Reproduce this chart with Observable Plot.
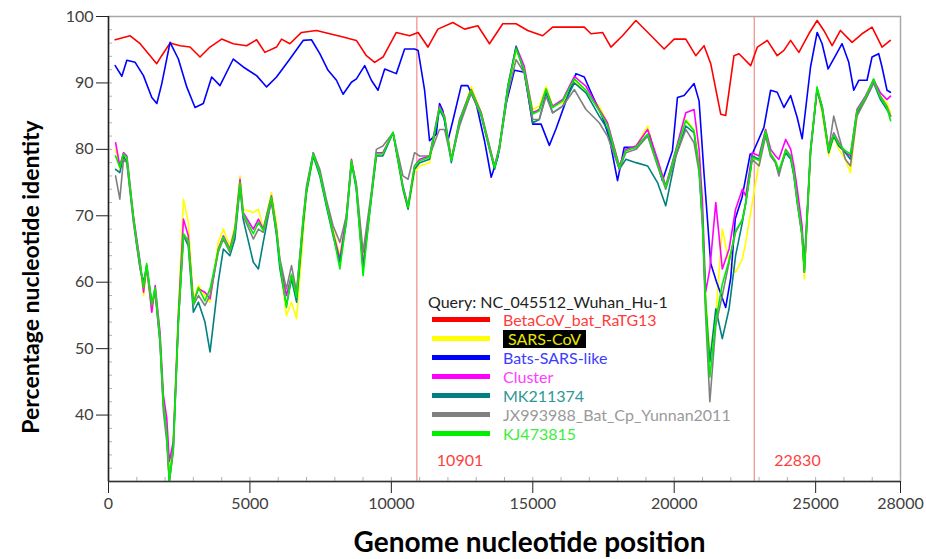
<!DOCTYPE html>
<html><head><meta charset="utf-8">
<script src="https://cdn.jsdelivr.net/npm/d3@7"></script>
<script src="https://cdn.jsdelivr.net/npm/@observablehq/plot@0.6"></script>
<style>
body{margin:0;background:#fff;}
#wrap{position:relative;width:926px;height:559px;overflow:hidden;}
#legend{position:absolute;left:428px;top:292px;font-family:Lato,sans-serif;font-size:16px;line-height:19px;}
#legend .q{color:#222;margin-bottom:-1px;}
#legend .row{display:flex;align-items:center;height:19px;padding-left:4px;}
#legend .sw{display:inline-block;width:58px;height:5px;margin-right:13px;}
#legend .lab{white-space:nowrap;}
</style></head><body><div id="wrap"></div>
<script>
// ---------- data ----------
const seriesNames = ["BetaCoV_bat_RaTG13","SARS-CoV","Bats-SARS-like","Cluster","MK211374","JX993988_Bat_Cp_Yunnan2011","KJ473815"];
const seriesColors = ["#ff0000","#ffff00","#0000ff","#ff00ff","#008080","#808080","#00ee00"];
const labelColors = ["#ff3c3c","#e8e800","#3c3cff","#ff3cff","#2e9696","#9a9a9a","#3cee3c"];
const queryLabel = "Query: NC_045512_Wuhan_Hu-1";
const cuts = [10901, 22830];
const xTicks = [0, 5000, 10000, 15000, 20000, 25000, 28000];
const yTicks = [40, 50, 60, 70, 80, 90, 100];

const posRed = [236,766,1118,1470,1705,1881,2175,2530,2882,3235,3588,4000,4411,4882,5236,5529,5941,6118,6412,6823,7353,7823,8293,8763,9117,9410,9705,10176,10646,10946,11293,11645,12174,12587,13056,13469,13939,14411,14820,15349,15702,16291,16821,17057,17467,17763,18172,18645,19114,19644,19997,20409,20762,21055,21291,21644,21820,22113,22290,22703,22940,23290,23642,23878,24115,24407,24760,25053,25289,25582,25877,26288,26641,26994,27347,27641];
const ratg13 = [96.5,97.1,95.9,94.1,92.9,94.1,96.0,95.6,95.4,93.9,95.4,96.6,95.9,95.6,96.5,94.6,95.4,96.6,95.9,97.6,97.9,97.4,96.9,96.4,94.1,93.1,93.9,97.6,97.1,97.6,95.4,98.1,99.1,98.1,98.6,95.9,98.9,98.9,97.9,97.1,98.4,98.4,98.4,97.4,97.6,95.4,97.1,99.4,97.4,95.1,96.6,96.6,94.1,95.6,92.9,85.3,85.1,94.1,94.4,92.6,95.4,96.4,94.1,94.9,96.4,94.6,97.4,99.4,97.9,95.6,97.9,96.1,97.4,98.4,95.4,96.4];

const posBlue = [236,472,649,942,1235,1531,1708,1884,2177,2470,2766,3059,3352,3648,3941,4411,4764,5236,5589,5941,6412,6882,7176,7470,7763,8060,8293,8588,8765,9058,9294,9528,9764,10176,10469,10822,10946,11175,11351,11588,11704,11822,11998,12174,12470,12703,13000,13292,13529,13762,14058,14351,14704,14997,15293,15586,15822,16175,16528,16821,17057,17467,17703,17996,18232,18645,19114,19584,19937,20114,20349,20702,20879,21055,21291,21500,21820,22000,22157,22400,22686,22760,23172,23408,23642,23878,24115,24348,24524,24819,25053,25229,25441,25702,25935,26171,26348,26524,26817,26994,27230,27347,27523,27641];
const batsSarsLike = [92.6,91.0,93.4,93.1,91.1,87.8,86.9,89.9,96.1,93.6,89.4,86.3,86.9,90.9,89.6,93.6,92.4,91.1,89.4,90.9,93.6,96.4,96.5,94.4,91.9,90.4,88.3,90.1,90.6,92.6,90.4,88.9,92.1,91.4,95.1,95.1,94.9,88.9,81.3,82.3,86.9,85.8,81.3,84.3,89.6,89.6,86.9,81.3,75.8,78.8,86.9,91.9,91.6,83.8,83.8,80.6,83.1,87.3,91.4,90.9,88.6,84.8,81.8,75.3,80.3,80.3,82.3,75.3,79.8,87.8,88.1,89.9,87.3,76.3,62.8,60.0,56.2,60.7,69.5,72.8,79.3,79.3,83.3,88.9,88.6,86.3,88.1,84.8,81.6,92.4,97.6,95.9,92.1,94.1,95.9,93.1,88.9,90.4,90.4,93.9,94.4,92.4,88.9,88.6];

const posLow = [250,400,530,650,880,1000,1120,1240,1350,1530,
1650,1820,1940,2060,2150,2290,2470,2650,2820,3000,
3180,3410,3590,3880,4060,4290,4470,4650,4760,5120,
5300,5470,5760,5940,6060,6290,6470,6650,6880,7000,
7240,7470,7700,7940,8180,8410,8590,8760,9000,9290,
9470,9700,10060,10410,10590,10820,11000,11350,11700,11880,
12120,12410,12820,13180,13470,13650,13820,14120,14410,14700,
15000,15230,15470,15700,16060,16470,16880,17350,17640,18060,
18290,18650,19060,19410,19700,20060,20410,20700,20880,21000,
21110,21260,21470,21700,21940,22170,22410,22530,22760,23000,
23230,23410,23580,23700,23940,24120,24230,24350,24520,24600,
24820,25050,25230,25460,25640,25820,26050,26230,26460,26760,
27050,27290,27520,27650];

const sarsCoV = [80,77,79,78.5,70,66,62.5,58,62,55.5,
59,52,42,37.5,31,36,56,72.5,69,57.5,
59.5,58,57,66,68,65.5,68.5,76,71,70.5,
71,68,73.5,69,63,55,57,54.5,67,73.5,
79,76.5,72,68,64,70,78.5,74.5,64,73,
79,79.5,82.5,74,71,76.5,77.5,78,86,85,
78.5,84,89.5,85.5,80.5,77.5,80,89,95,92,
86,86.5,89.5,86.5,87,90.5,88.5,86.5,84,77.5,
80,80.5,83.5,78,74.5,79.5,84.5,83,78,70,
58,49,55,68,63,61.5,63.5,66,72,78,
83,79.5,78,76.5,80,79,76,73,67,60.5,
79.5,89,85.5,79,82,80,78.5,76.5,85,87.5,
90.5,88,87,85.5];

const cluster = [81,77.5,79.5,79,70,66.5,63,58.5,62.5,55.5,
59.5,52.5,43,39.5,33,36,55,69.5,67,57,
59,58.5,57.5,65,67,65,68,75.5,70.5,68,
69.5,68,73,68,63,58,61,58.5,69,74,
79.5,76.5,72,67.5,63.5,70,78.5,74.5,62.5,73,
79.5,79.5,82.5,74.5,71.5,77.5,78.5,79,86.5,85,
78.5,84.5,89,85.5,80.5,77.5,80.5,89.5,95.5,92.5,
85.5,86,89,86.5,87.5,91,89.5,86,84,77.5,
80,80.5,83,78.5,74.5,80,85.5,86,80,72,
58.5,62,72,62,65,71,74,73,79.5,79,
83,80,79,78.5,81.5,80,77.5,74,68.5,63,
80,89,86.5,80,82.5,81,79.5,79,86,88,
90.5,88.5,87.5,88];

const mk211374 = [77,76.5,79,78,69.5,65.5,62,60,62.5,57,
58.5,51,41.5,37,30,35,54,67,65.5,55.5,
57,54,49.5,60,65,64,66.5,74.5,69.5,63,
62,66,72.5,67,62,56.5,60.5,57,68.5,73.5,
79,76,71.5,67,63,69,78,74,62,72.5,
79,79,82.5,74,71,77,78,78.5,86,84.5,
78,84,88.5,85,80,77,80,89.5,95.5,91.5,
84,84.5,88.5,85.5,86.5,90,88.5,85,83,77,
78.5,78,77.5,75,71.5,79,83.5,82.5,77,69,
57,48,56,51.5,56,64,69,72,79,78.5,
82.5,79,78,76.5,79.5,78.5,76,72,67,61.5,
79.5,89,86,79.5,82,80.5,79.5,78.5,85.5,87.5,
90,87.5,86,85];

const jx993988 = [76,72.5,78.5,78,69,65.5,62,59.5,62,56.5,
58.5,51,40.5,36,30,34.5,54,67,66,56.5,
58,56.5,58,64.5,66.5,64.5,67.5,74.5,70,66.5,
68,67.5,72,67.5,63.5,59,62.5,58.5,69.5,74.5,
79.5,77,72.5,68.5,66,70,78,75,64.5,73.5,
80,80.5,82.5,76,75.5,79.5,79,79,83,83,
78.5,83.5,88.5,85,80,77.5,80,88.5,93.5,91.5,
84.5,84.5,88,85.5,86.5,89,86,84,82,77,
79.5,80,82,77.5,74,79,83,81,76.5,68.5,
55,42,53.5,58,63,67.5,69.5,72,78.5,77.5,
82,79,78,76,80,79,76.5,72,67,61.5,
80,89,86.5,80,85,82,78.5,77.5,85,87.5,
90,88,86.5,85];

const kj473815 = [79,77.3,79.3,78.8,69.8,66,62.8,59.2,62.8,56.7,
59.2,51.7,41.7,37.1,30,35.1,54.2,67.3,66.3,56.7,
59.2,57.2,59,64.8,66.8,64.8,67.8,75,70.3,67.3,
69,67.8,72.8,67.8,62.8,56.2,61.2,57.7,69.3,73.8,
79.3,76.3,71.8,67.3,62,69.3,78.3,74.3,61,72.8,
79.3,79.3,82.6,74.3,71.3,77.5,78.3,78.8,86.3,84.8,
78.3,84.3,88.9,85.3,80.3,77.3,80.3,89.4,95.1,91.9,
85.3,85.8,89.1,86.3,87.3,90.6,88.9,85.8,83.6,77.3,
79.8,80.3,82.3,77.8,74.3,79.8,84.3,82.8,77.3,69.3,
56.7,45.7,54.2,59.7,63.3,67.8,69.3,71.8,78.8,78.3,
82.8,79.3,78.3,76.8,79.8,78.8,76.3,72.3,67.3,61.7,
79.8,89.4,86.3,79.8,82.3,80.8,79.8,79.3,85.8,87.8,
90.6,87.8,86.3,84.3];

// ---------- table ----------
const rows = [];
function add(name, xs, ys){ xs.forEach((p,i)=>rows.push({series:name, pos:p, val:ys[i]})); }
add(seriesNames[0], posRed, ratg13);
add(seriesNames[1], posLow, sarsCoV);
add(seriesNames[2], posBlue, batsSarsLike);
add(seriesNames[3], posLow, cluster);
add(seriesNames[4], posLow, mk211374);
add(seriesNames[5], posLow, jx993988);
add(seriesNames[6], posLow, kj473815);

const xMinor = d3.range(0, 28001, 1000);
const yMinor = d3.range(32, 100, 2);

const chart = Plot.plot({
  width: 926, height: 559,
  marginTop: 16, marginBottom: 78, marginLeft: 108, marginRight: 26,
  style: {fontFamily: "Lato, sans-serif", fontSize: "16px", color: "#404040", background: "white"},
  x: {domain: [0, 28000]},
  y: {domain: [30, 100]},
  color: {domain: seriesNames, range: seriesColors},
  marks: [
    Plot.frame({stroke: "#a8a8a8", strokeWidth: 1.5}),
    Plot.axisX(xMinor, {tickSize: -4, text: null, label: null, stroke: "#b0b0b0"}),
    Plot.axisY(yMinor, {tickSize: -4, text: null, label: null, stroke: "#b0b0b0"}),
    Plot.axisX(xTicks, {tickSize: 12, tickPadding: 4, label: null, stroke: "#222", tickFormat: d => String(d)}),
    Plot.axisY(yTicks, {tickSize: 12, tickPadding: 3, label: null, stroke: "#222"}),
    Plot.ruleX(cuts, {stroke: "#f28a8a", strokeWidth: 1.2}),
    Plot.text(cuts, {x: d => d, frameAnchor: "bottom", dy: -21, dx: 20, textAnchor: "start", lineAnchor: "middle", fill: "#ff4040", fontSize: 16, text: d => String(d)}),
    Plot.lineY(rows, {x: "pos", y: "val", stroke: "series", strokeWidth: 1.6, clip: true}),
    Plot.ruleX([0], {stroke: "#222", strokeWidth: 1.5}),
    Plot.ruleY([30], {stroke: "#333", strokeWidth: 1.5}),
    Plot.text(["Genome nucleotide position"], {frameAnchor: "bottom", dx: 25, dy: 62, textAnchor: "middle", lineAnchor: "middle", fontSize: 28, fontWeight: "bold", fill: "#000"}),
    Plot.text(["Percentage nucleotide identity"], {frameAnchor: "left", dx: -77, dy: 28, textAnchor: "middle", lineAnchor: "middle", rotate: -90, fontSize: 23, fontWeight: "bold", fill: "#000"})
  ]
});

const wrap = document.getElementById("wrap");
wrap.appendChild(chart);

// legend
const lg = document.createElement("div");
lg.id = "legend";
const q = document.createElement("div");
q.className = "q"; q.textContent = queryLabel;
lg.appendChild(q);
seriesNames.forEach((n, i) => {
  const r = document.createElement("div"); r.className = "row";
  const sw = document.createElement("span"); sw.className = "sw"; sw.style.background = seriesColors[i];
  const lab = document.createElement("span"); lab.className = "lab"; lab.textContent = n; lab.style.color = labelColors[i];
  if (i === 1) { lab.style.background = "#000"; lab.style.padding = "0 5px"; lab.style.lineHeight = "18px"; }
  r.appendChild(sw); r.appendChild(lab); lg.appendChild(r);
});
wrap.appendChild(lg);
</script>
</body></html>
